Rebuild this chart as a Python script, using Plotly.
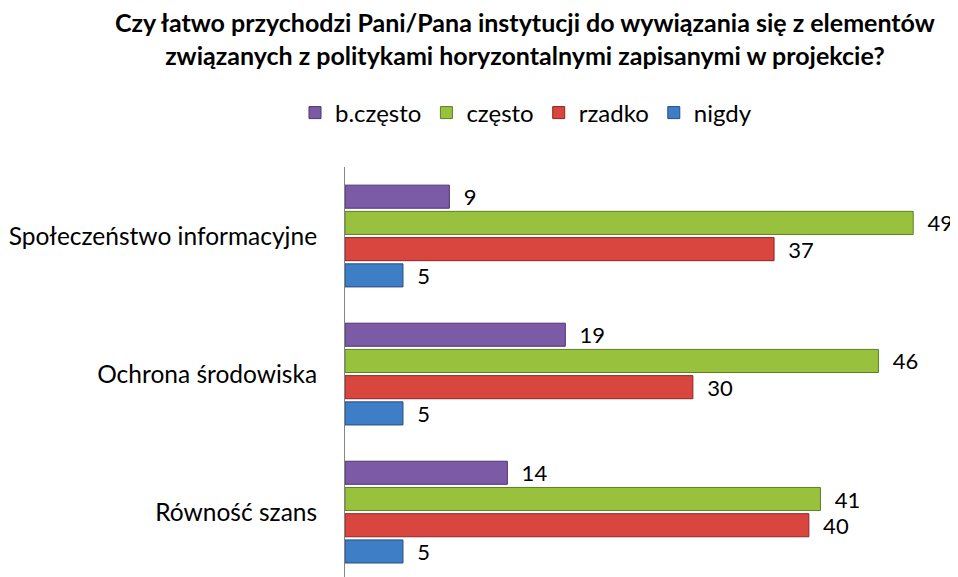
import plotly.graph_objects as go

# Data
categories = ["Społeczeństwo informacyjne", "Ochrona środowiska", "Równość szans"]
series_names = ["b.często", "często", "rzadko", "nigdy"]
b_czesto = [9, 19, 14]
czesto = [49, 46, 41]
rzadko = [37, 30, 40]
nigdy = [5, 5, 5]

title_text = ("<b>Czy łatwo przychodzi Pani/Pana instytucji do wywiązania się z elementów<br>"
              "związanych z politykami horyzontalnymi zapisanymi w projekcie?</b>")

colors = ["#7b5aa6", "#98c23e", "#d9463f", "#3e7ec6"]
edge_colors = ["#4e3570", "#5f7f22", "#8e2521", "#234e84"]

# the page body adds an 8px offset, so the layout is placed 8px up/left
L, T, PW, PH = 337, 159, 603, 410

fig = go.Figure()
for name, vals, col, edge in zip(series_names, [b_czesto, czesto, rzadko, nigdy], colors, edge_colors):
    fig.add_trace(go.Bar(
        name=name,
        y=categories,
        x=vals,
        orientation="h",
        marker=dict(color=col, line=dict(color=edge, width=1)),
        text=vals,
        texttemplate="\u00a0\u00a0%{x}",
        textposition="outside",
        constraintext="none",
        textfont=dict(family="Lato", size=22, color="#000000"),
        cliponaxis=False,
    ))

fig.add_annotation(
    text=title_text,
    xref="paper", yref="paper",
    x=(517 - L) / PW, y=1 + (T - 31) / PH,
    xanchor="center", yanchor="middle",
    showarrow=False, align="center",
    font=dict(family="Lato", size=25, color="#000000"),
)

fig.update_layout(
    width=958,
    height=577,
    paper_bgcolor="white",
    plot_bgcolor="white",
    font=dict(family="Lato", color="#000000"),
    legend=dict(
        orientation="h",
        xref="container", yref="container",
        x=518 / 958, xanchor="center",
        y=1 - 105 / 577, yanchor="middle",
        font=dict(family="Lato", size=24),
        traceorder="normal",
        itemwidth=30,
    ),
    barmode="group",
    bargap=0.24,
    bargroupgap=0.12,
    margin=dict(l=L, r=958 - L - PW, t=T, b=577 - T - PH, autoexpand=False),
)

fig.update_xaxes(range=[0, 52], showgrid=False, zeroline=False, showline=False,
                 showticklabels=False, ticks="", automargin=False)
fig.update_yaxes(range=[2.47, -0.5], showgrid=False, zeroline=False, showline=True,
                 linecolor="#868686", linewidth=1, ticks="", ticklabelstandoff=22,
                 automargin=False,
                 tickfont=dict(family="Lato", size=24.5, color="#000000"))

fig.write_html("out.html")
